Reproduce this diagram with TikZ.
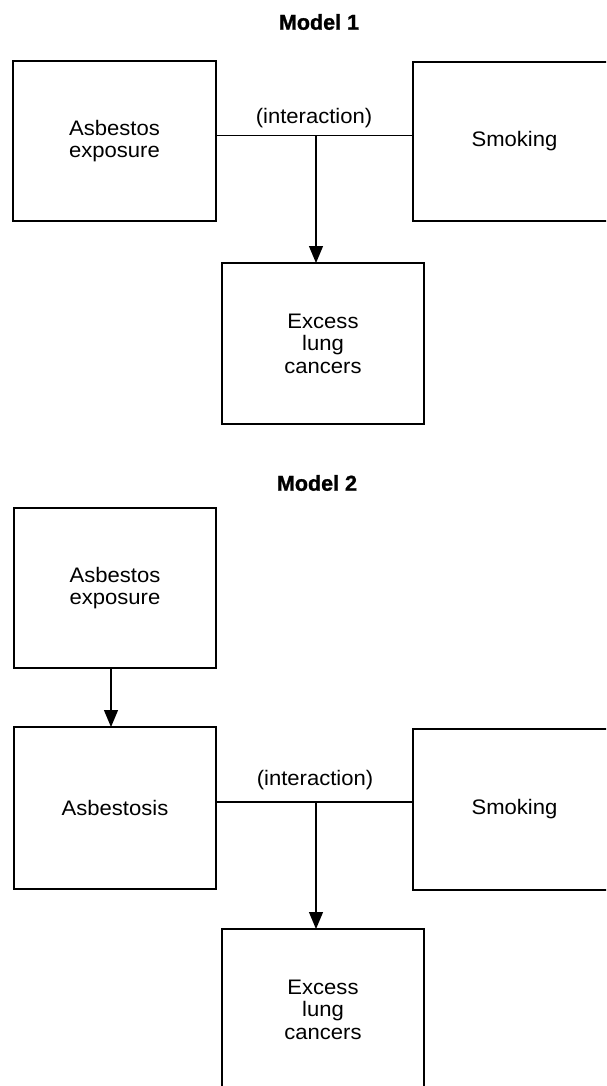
\documentclass[tikz,border=0pt]{standalone}
\usepackage{fontspec}
\setmainfont{Liberation Sans}[FakeStretch=1.05]
\newfontfamily\titlefont{Liberation Sans}[FakeBold=1.2]
\usetikzlibrary{arrows.meta}
\begin{document}
\begin{tikzpicture}[x=1pt,y=-1pt,
  box/.style={draw, line width=1.2pt, inner sep=0pt, outer sep=0pt,
    minimum width=203pt, minimum height=160pt, align=center,
    font=\fontsize{21}{22.5}\selectfont},
  lbl/.style={font=\fontsize{21}{22.5}\selectfont, inner sep=0pt},
  ttl/.style={font=\fontsize{21.5}{22}\selectfont\titlefont\bfseries, inner sep=0pt},
  conn/.style={line width=1.2pt},
  arr/.style={line width=1.2pt, -{Triangle[width=14pt,length=17pt]}}]
\useasboundingbox (0,0) rectangle (606,1086);
\begin{scope}
\clip (0,0) rectangle (606,1086);
% Model 1
\node[ttl] (t1) at (319,22) {Model 1};
\node[box] (A1) at (114.5,141) {Asbestos\\exposure};
\node[box, minimum height=159pt] (S1) at (514.5,141.5) {Smoking};
\node[box, minimum width=202pt, minimum height=161pt] (E1) at (323,343.5) {Excess\\lung\\cancers};
\node[lbl] (i1) at (314,118) {(interaction)};
\coordinate (j1) at (316,135.5);
\draw[conn] (A1.east |- j1) -- (S1.west |- j1);
\draw[arr] (j1) -- (j1 |- E1.north);
% Model 2
\node[ttl] (t2) at (317,483) {Model 2};
\node[box, minimum width=202pt] (A2) at (115,588) {Asbestos\\exposure};
\node[box, minimum width=202pt, minimum height=162pt] (B2) at (115,808) {Asbestosis};
\node[box, minimum height=161pt] (S2) at (514.5,809.5) {Smoking};
\node[box, minimum width=202pt, minimum height=161pt] (E2) at (323,1009.5) {Excess\\lung\\cancers};
\node[lbl] (i2) at (315,780) {(interaction)};
\coordinate (j2) at (316,802);
\coordinate (k2) at (111,0);
\draw[arr] (k2 |- A2.south) -- (k2 |- B2.north);
\draw[conn] (B2.east |- j2) -- (S2.west |- j2);
\draw[arr] (j2) -- (j2 |- E2.north);
\end{scope}
\end{tikzpicture}
\end{document}
